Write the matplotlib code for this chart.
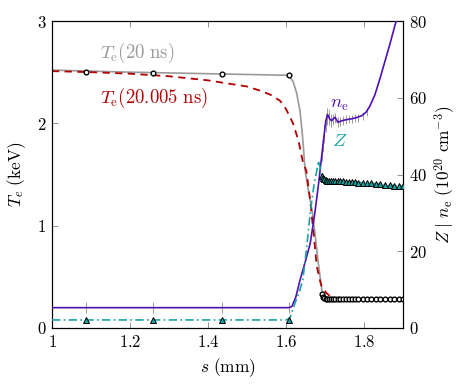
import matplotlib
matplotlib.use("Agg")
import matplotlib.pyplot as plt
from matplotlib.ticker import FuncFormatter

plt.rcParams['mathtext.fontset'] = 'cm'
plt.rcParams['font.family'] = ['DejaVu Serif']

# --- Te at 20 ns (gray line) ---
s_te20 = [1.0, 1.2, 1.4, 1.6, 1.61, 1.618, 1.627, 1.636, 1.643, 1.649, 1.658,
          1.667, 1.675, 1.682, 1.69, 1.695, 1.72, 1.8, 1.9]
te20 = [2.52, 2.50, 2.485, 2.47, 2.45, 2.41, 2.30, 2.12, 1.85, 1.54, 1.33,
        1.15, 0.90, 0.66, 0.42, 0.30, 0.28, 0.275, 0.275]

# --- Te at 20.005 ns (red dashed) ---
s_te2005 = [1.0, 1.1, 1.2, 1.3, 1.4, 1.45, 1.5, 1.533, 1.56, 1.585, 1.6, 1.618,
            1.632, 1.644, 1.652, 1.662, 1.674, 1.679, 1.69, 1.704, 1.72, 1.8, 1.9]
te2005 = [2.51, 2.50, 2.485, 2.46, 2.42, 2.39, 2.36, 2.32, 2.28, 2.22, 2.14, 2.0,
          1.83, 1.61, 1.54, 1.25, 0.80, 0.60, 0.42, 0.34, 0.29, 0.28, 0.28]

# --- ne (purple) ---
s_ne = [1.0, 1.608, 1.615, 1.625, 1.636, 1.65, 1.662, 1.674, 1.684, 1.694, 1.702,
        1.707, 1.712, 1.717, 1.722, 1.726, 1.733, 1.743, 1.755, 1.768, 1.78, 1.794,
        1.805, 1.815, 1.828, 1.841, 1.854, 1.867, 1.879, 1.9]
ne = [5.3, 5.3, 5.6, 8.0, 12.5, 17.5, 22.0, 30.0, 38.0, 47.0, 54.0,
      55.6, 54.5, 54.0, 54.6, 54.9, 53.6, 54.0, 54.3, 54.5, 54.8, 55.3,
      56.2, 57.8, 60.8, 65.0, 69.6, 74.2, 78.7, 86.0]

# --- Z (teal dash-dot) ---
s_z = [1.0, 1.6, 1.61, 1.623, 1.633, 1.643, 1.652, 1.662, 1.672, 1.679, 1.683,
       1.687, 1.6923]
z = [2.1, 2.1, 2.6, 6.5, 9.0, 12.5, 20.0, 29.9, 37.5, 41.0, 43.6, 42.0, 39.6]

# --- marker positions (simulation cells) ---
s_sparse = [1.087, 1.26, 1.435, 1.608]
te_sparse = [2.50, 2.49, 2.48, 2.47]
z_sparse = [2.1, 2.1, 2.1, 2.1]
ne_sparse = [5.3, 5.3, 5.3, 5.3]
ne_sparse_err = [1.4, 1.4, 1.4, 1.4]

s_dense = [1.6923, 1.6949, 1.6974, 1.7013, 1.7051, 1.7103, 1.7154, 1.7205, 1.7269,
           1.7333, 1.7397, 1.7462, 1.7538, 1.7615, 1.7692, 1.7769, 1.7846, 1.7962,
           1.8077, 1.8192, 1.8308, 1.8423, 1.8538, 1.8654, 1.8769, 1.8885, 1.9]
te_dense = [0.33, 0.30, 0.29, 0.285, 0.28, 0.28, 0.28, 0.28, 0.28, 0.28, 0.28, 0.28,
            0.28, 0.28, 0.28, 0.28, 0.28, 0.28, 0.28, 0.28, 0.28, 0.28, 0.28, 0.28,
            0.28, 0.28, 0.28]
z_dense = [39.6, 39.2, 38.9, 38.6, 38.4, 38.3, 38.3, 38.3, 38.3, 38.3, 38.2, 38.2,
           38.1, 38.1, 38.0, 38.0, 37.9, 37.9, 37.8, 37.7, 37.6, 37.5, 37.3, 37.2,
           37.1, 37.0, 36.9]
s_err = s_dense[:19]
ne_err_c = [45.5, 48.0, 50.5, 53.5, 55.2, 55.0, 54.1, 54.4, 54.8, 53.7, 53.9, 54.1,
            54.3, 54.4, 54.5, 54.7, 54.8, 55.2, 56.3]
ne_err = [2.0, 2.2, 2.4, 2.4, 2.2, 2.0, 1.6, 1.4, 1.3, 1.2, 1.2, 1.1, 1.1, 1.1,
          1.0, 1.0, 1.0, 1.0, 1.0]

gray = '#9a9a9a'
red = '#b30000'
purple = '#5210b4'
teal = '#1aa3a3'

fig = plt.figure(figsize=(4.69, 3.84), dpi=100)
ax1 = fig.add_axes([52 / 469, 56 / 384, 351 / 469, 307 / 384])
ax2 = ax1.twinx()

ax1.plot(s_te20, te20, color=gray, lw=1.2, zorder=3)
ax1.plot(s_te2005, te2005, color=red, lw=1.3, dashes=(4, 3), zorder=3)
ax1.plot(s_sparse + s_dense, te_sparse + te_dense, ls='none', marker='o', ms=3.4,
         mfc='white', mec='black', mew=1.0, zorder=4)

ax2.errorbar(s_sparse + s_err, ne_sparse + ne_err_c, yerr=ne_sparse_err + ne_err,
             fmt='none', ecolor='#999999', elinewidth=0.7, zorder=2)
ax2.plot(s_ne, ne, color=purple, lw=1.2, zorder=3)
ax2.plot(s_z + s_dense[1:], z + z_dense[1:], color=teal, lw=1.2,
         dashes=(5, 2, 1, 2), zorder=3)
ax2.plot(s_sparse + s_dense, z_sparse + z_dense, ls='none', marker='^', ms=5,
         mfc=teal, mec='black', mew=0.7, zorder=4)

ax1.set_xlim(1, 1.9)
ax1.set_ylim(0, 3)
ax2.set_ylim(0, 80)
ax1.set_xticks([1, 1.2, 1.4, 1.6, 1.8])
ax1.set_yticks([0, 1, 2, 3])
ax2.set_yticks([0, 20, 40, 60, 80])

fmt = FuncFormatter(lambda v, p: r'$%g$' % v)
ax1.xaxis.set_major_formatter(fmt)
ax1.yaxis.set_major_formatter(fmt)
ax2.yaxis.set_major_formatter(fmt)

for ax in (ax1, ax2):
    ax.tick_params(direction='in', length=4, width=0.6, color='#808080',
                   labelsize=12, pad=4)
    for sp in ax.spines.values():
        sp.set_linewidth(0.8)
ax1.tick_params(axis='x', top=True)

ax1.set_xlabel(r'$s\ \mathrm{(mm)}$', fontsize=12.5, labelpad=4)
ax1.set_ylabel(r'$T_e\ \mathrm{(keV)}$', fontsize=12.5, labelpad=6)
ax2.set_ylabel(r'$Z\ |\ n_\mathrm{e}\ (10^{20}\ \mathrm{cm}^{-3})$', fontsize=12.5,
               labelpad=4)

ax1.text(1.123, 2.69, r'$T_\mathrm{e}(20\ \mathrm{ns})$', color=gray, fontsize=13.5,
         va='center')
ax1.text(1.123, 2.25, r'$T_\mathrm{e}(20.005\ \mathrm{ns})$', color=red, fontsize=13.5,
         va='center')
ax1.text(1.713, 2.19, r'$n_\mathrm{e}$', color=purple, fontsize=13.5, va='center')
ax1.text(1.719, 1.83, r'$Z$', color=teal, fontsize=13.5, va='center')

fig.savefig('out.png', dpi=100)
